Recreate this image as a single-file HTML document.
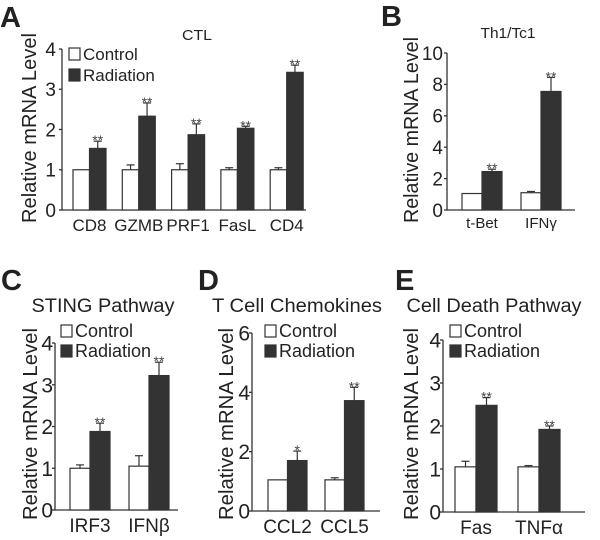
<!DOCTYPE html>
<html><head><meta charset="utf-8"><style>
html,body{margin:0;padding:0;background:#fff;}
svg{display:block;font-family:"Liberation Sans",Arial,sans-serif;}
</style></head><body>
<svg id="fig" width="600" height="540" viewBox="0 0 600 540" xmlns="http://www.w3.org/2000/svg"></svg>
<script>
// Panel data
const catsA = ["CD8","GZMB","PRF1","FasL","CD4"];
const ctrlA = [1,1,1,1,1];
const ctrlErrA = [0,0.12,0.15,0.05,0.05];
const radA = [1.53,2.33,1.87,2.03,3.42];
const radErrA = [0.18,0.33,0.27,0.05,0.18];
const sigA = ["**","**","**","**","**"];

const catsB = ["t-Bet","IFNγ"];
const ctrlB = [1.05,1.1];
const ctrlErrB = [0,0.08];
const radB = [2.45,7.55];
const radErrB = [0.15,0.9];
const sigB = ["**","**"];

const catsC = ["IRF3","IFNβ"];
const ctrlC = [1.0,1.05];
const ctrlErrC = [0.08,0.25];
const radC = [1.88,3.22];
const radErrC = [0.2,0.32];
const sigC = ["**","**"];

const catsD = ["CCL2","CCL5"];
const ctrlD = [1.05,1.05];
const ctrlErrD = [0,0.07];
const radD = [1.7,3.72];
const radErrD = [0.32,0.45];
const sigD = ["*","**"];

const catsE = ["Fas","TNFα"];
const ctrlE = [1.05,1.05];
const ctrlErrE = [0.13,0.03];
const radE = [2.48,1.92];
const radErrE = [0.18,0.08];
const sigE = ["**","**"];

const ticksA = [0,1,2,3,4];
const ticksB = [0,2,4,6,8,10];
const ticksC = [0,1,2,3,4];
const ticksD = [0,2,4,6];
const ticksE = [0,1,2,3,4];

const NS="http://www.w3.org/2000/svg";
const svg=document.getElementById('fig');
function mk(tag,attrs,parent,text){
  const e=document.createElementNS(NS,tag);
  for(const k in attrs)e.setAttribute(k,attrs[k]);
  if(text!==undefined)e.textContent=text;
  (parent||svg).appendChild(e);return e;
}

function panel(cfg){
  const g=mk('g',{});
  
  
  const ymax=cfg.ticks[cfg.ticks.length-1];
  const ys=v=>cfg.y0-(v/ymax)*(cfg.y0-cfg.yTop);
  const L=mk('text',{x:cfg.lx,y:cfg.ly,'font-size':29,'font-weight':'bold',fill:'#222'},g,cfg.letter);
  
  
  const T=mk('text',{x:cfg.tx,y:cfg.ty,'font-size':cfg.tfs,'text-anchor':'middle',fill:'#222',textLength:cfg.tlen,lengthAdjust:'spacingAndGlyphs'},g,cfg.title);
  
  
  const Y=mk('text',{x:0,y:0,'font-size':cfg.yfs,'text-anchor':'middle',fill:'#222',textLength:cfg.ylen,lengthAdjust:'spacingAndGlyphs',transform:`translate(${cfg.ylx},${cfg.yly}) rotate(-90)`},g,'Relative mRNA Level');
  
  
  const ax=mk('path',{d:`M${cfg.ax},${cfg.yTop}V${cfg.y0}H${cfg.axEnd}`,stroke:'#333','stroke-width':1.3,fill:'none'},g);
  
  
  cfg.ticks.forEach(t=>{
    const y=ys(t);
    mk('line',{x1:cfg.ax-3,x2:cfg.ax,y1:y,y2:y,stroke:'#333','stroke-width':1.3},g);
    const tl=mk('text',{x:cfg.ax-cfg.tickOff,y:y+cfg.tickfs*0.36,'font-size':cfg.tickfs,'text-anchor':'end',fill:'#222'},g,String(t));
    
    
  });
  cfg.cats.forEach((c,i)=>{
    const cx=cfg.x0+i*cfg.step;
    const w=cfg.bw;
    const pairs=[[cfg.ctrl[i],cfg.ctrlErr[i],cx,'#fff'],[cfg.rad[i],cfg.radErr[i],cx+w,'#333']];
    pairs.forEach((p,j)=>{
      const top=ys(p[0]);
      const bx=p[2];
      if(p[1]>0){
        const ey=ys(p[0]+p[1]);
        mk('line',{x1:bx+w/2,x2:bx+w/2,y1:top,y2:ey,stroke:'#333','stroke-width':1.2},g);
        mk('line',{x1:bx+w/2-4,x2:bx+w/2+4,y1:ey,y2:ey,stroke:'#333','stroke-width':1.2},g);
      }
      const r=mk('rect',{x:bx,y:top,width:w,height:cfg.y0-top,fill:p[3],stroke:'#333','stroke-width':1.2},g);
      
      
      if(j===1){
        const s=mk('text',{x:bx+w/2,y:ys(p[0]+p[1])+4,'font-size':14,'text-anchor':'middle',fill:'#444'},g,cfg.sig[i]);
        
        
      }
    });
    const cl=mk('text',{x:cx+w,y:cfg.y0+cfg.catdy,'font-size':cfg.catfs,'text-anchor':'middle',fill:'#222'},g,c);
    
    
  });
  if(cfg.legX!==undefined){
    const lg=mk('g',{},g);
    
    
    [['Control','#fff'],['Radiation','#333']].forEach((e,k)=>{
      const yy=cfg.legY+k*cfg.legDy;
      mk('rect',{x:cfg.legX,y:yy-12,width:11,height:12,fill:e[1],stroke:'#333','stroke-width':1.2},lg);
      const lt=mk('text',{x:cfg.legX+14,y:yy,'font-size':cfg.legfs,fill:'#222'},lg,e[0]);
      
      
    });
  }
}

panel({name:'panel-a',letter:'A',lx:0,ly:27,title:'CTL',tx:197,ty:40,tfs:15,tlen:30,ylx:36,yly:128,yfs:20,ylen:190,
  ax:62,axEnd:306,yTop:49,y0:210,ticks:ticksA,tickfs:19,tickOff:6,cats:catsA,ctrl:ctrlA,ctrlErr:ctrlErrA,rad:radA,radErr:radErrA,sig:sigA,
  x0:73,step:49.3,bw:16.5,catdy:21,catfs:17,legX:69,legY:60,legDy:21,legfs:17});
panel({name:'panel-b',letter:'B',lx:381,ly:26,title:'Th1/Tc1',tx:508,ty:38,tfs:15,tlen:55,ylx:418,yly:130,yfs:20,ylen:186,
  ax:447,axEnd:575,yTop:53,y0:210,ticks:ticksB,tickfs:19,tickOff:4,cats:catsB,ctrl:ctrlB,ctrlErr:ctrlErrB,rad:radB,radErr:radErrB,sig:sigB,
  x0:462,step:59,bw:20,catdy:18,catfs:15});
panel({name:'panel-c',letter:'C',lx:1,ly:290,title:'STING Pathway',tx:103,ty:312,tfs:19,tlen:143,ylx:37,yly:424,yfs:20,ylen:192,
  ax:55,axEnd:178,yTop:343,y0:510,ticks:ticksC,tickfs:21,tickOff:2,cats:catsC,ctrl:ctrlC,ctrlErr:ctrlErrC,rad:radC,radErr:radErrC,sig:sigC,
  x0:70,step:59,bw:20,catdy:22,catfs:19,legX:61,legY:337,legDy:20,legfs:18});
panel({name:'panel-d',letter:'D',lx:198,ly:290,title:'T Cell Chemokines',tx:297,ty:312,tfs:19,tlen:170,ylx:233,yly:424,yfs:20,ylen:192,
  ax:252,axEnd:380,yTop:333,y0:511,ticks:ticksD,tickfs:21,tickOff:2,cats:catsD,ctrl:ctrlD,ctrlErr:ctrlErrD,rad:radD,radErr:radErrD,sig:sigD,
  x0:268,step:57,bw:19.5,catdy:22,catfs:19,legX:265,legY:337,legDy:20,legfs:18});
panel({name:'panel-e',letter:'E',lx:395,ly:290,title:'Cell Death Pathway',tx:494,ty:312,tfs:19,tlen:175,ylx:418,yly:424,yfs:20,ylen:192,
  ax:443,axEnd:585,yTop:340,y0:512,ticks:ticksE,tickfs:21,tickOff:2,cats:catsE,ctrl:ctrlE,ctrlErr:ctrlErrE,rad:radE,radErr:radErrE,sig:sigE,
  x0:455,step:63,bw:21,catdy:22,catfs:19,legX:450,legY:337,legDy:20,legfs:18});
</script>
</body></html>
